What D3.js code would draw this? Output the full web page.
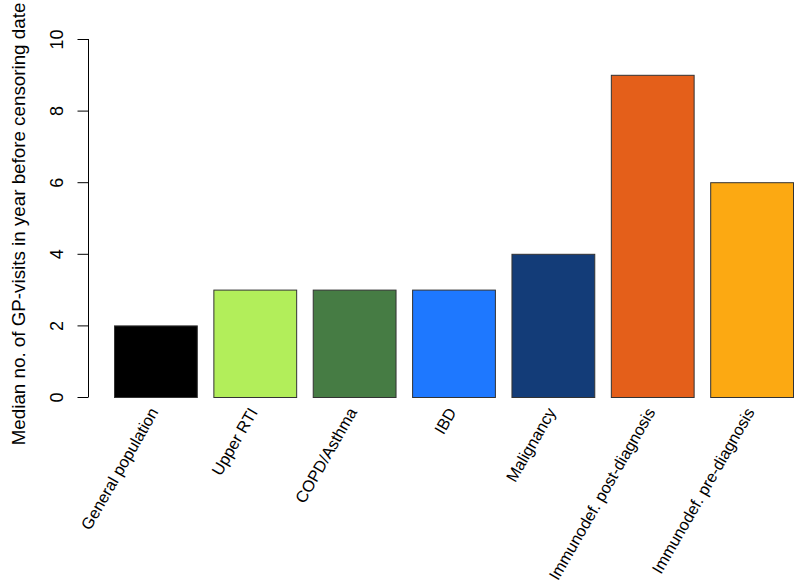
<!DOCTYPE html>
<html><head><meta charset="utf-8">
<script src="https://cdn.jsdelivr.net/npm/d3@7"></script>
<style>body{margin:0;background:#fff}svg{display:block}text{font-family:"Liberation Sans",Arial,sans-serif}</style>
</head><body><div id="chart"></div>
<script>
const categories = ["General population","Upper RTI","COPD/Asthma","IBD","Malignancy","Immunodef. post-diagnosis","Immunodef. pre-diagnosis"];
const values = [2,3,3,3,4,9,6];
const colors = ["#000000","#B2EE5A","#467C44","#1E78FF","#133C78","#E45F1A","#FCA912"];
const yTicks = [0,2,4,6,8,10];
const yTitle = "Median no. of GP-visits in year before censoring date";

const W = 797, H = 583;
const svg = d3.select("#chart").append("svg").attr("width", W).attr("height", H);
const y = d3.scaleLinear().domain([0,10]).range([397,39]);
const x = d3.scaleBand().domain(categories).range([114,793]).paddingInner(0.2/1.2).paddingOuter(0);

svg.selectAll("rect.bar").data(categories).enter().append("rect")
  .attr("class","bar")
  .attr("x", d => x(d)+0.5)
  .attr("width", x.bandwidth())
  .attr("y", (d,i) => y(values[i])+0.5)
  .attr("height", (d,i) => y(0)-y(values[i]))
  .attr("fill", (d,i) => colors[i])
  .attr("stroke", "#333").attr("stroke-width", 1);

const yAxis = d3.axisLeft(y).tickValues(yTicks).tickSize(11).tickPadding(3).tickFormat(d3.format("d"));
const gy = svg.append("g").attr("transform","translate(88.5,0)").call(yAxis);
gy.selectAll(".domain").attr("d", `M0,${y(0)}V${y(10)}`).attr("stroke","#000");
gy.selectAll(".tick line").attr("stroke","#000");
gy.selectAll(".tick text")
  .attr("font-size", 18).attr("fill","#000")
  .attr("x", null).attr("dy", null)
  .attr("text-anchor","middle")
  .attr("transform", "translate(-26,0) rotate(-90)")
  .attr("y", 0);

svg.append("text")
  .attr("transform", `translate(25,224) rotate(-90)`)
  .attr("text-anchor","middle").attr("font-size",18.8).attr("fill","#000")
  .text(yTitle);

svg.selectAll("text.xl").data(categories).enter().append("text")
  .attr("class","xl")
  .attr("text-anchor","end").attr("font-size",16.3).attr("fill","#000")
  .attr("transform", d => `translate(${x(d)+x.bandwidth()/2+3.5},${412}) rotate(-60)`)
  .text(d => d);
</script></body></html>
